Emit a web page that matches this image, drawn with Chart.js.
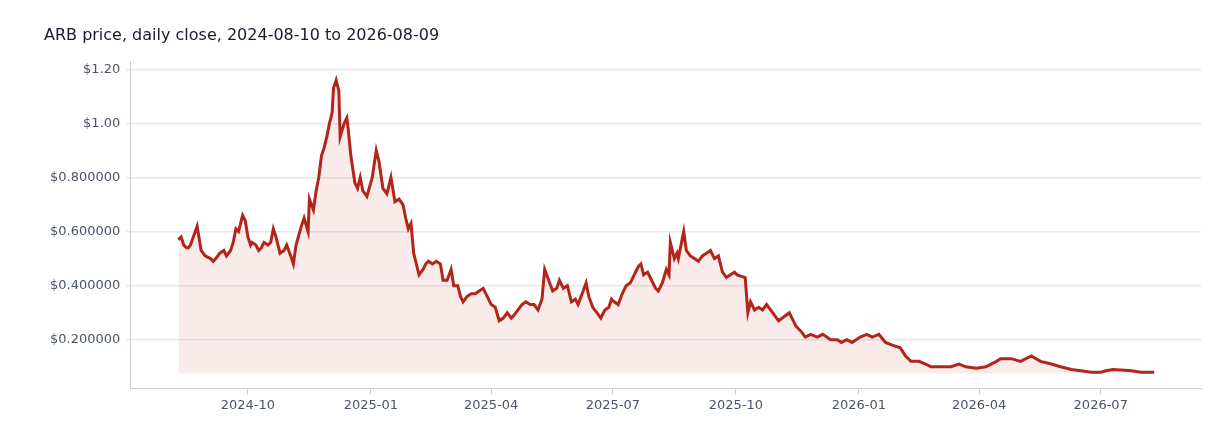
<!DOCTYPE html>
<html><head><meta charset="utf-8">
<script src="https://cdn.jsdelivr.net/npm/chart.js@4"></script>
<style>html,body{margin:0;padding:0;background:#fff}#w{width:1232px;height:448px;position:relative}</style>
</head><body><div id="w"><canvas id="c"></canvas></div>
<script>
const dayOffsets=[0,2,4,6,7.5,9,14,17,20,24,26,28,31,34,36,39,41,43,45,46,48,50,52,54,55,58,60,62,64,67,69,71,73,76,79,81,84,86,88,92,94,97,98,101,103,105,107,109,111,113,115,116,118,120,121,124,126,127,129,132,134,136,138,141,145,148,150,153,156,159,162,165,168,170,172,174,176,178,180,183,185,187,190,193,196,198,201,204,206,209,211,213,216,219,222,225,228,231,234,237,240,243,246,249,251,254,257,260,263,266,269,272,274,277,280,283,285,288,291,294,297,299,302,305,307,310,313,316,319,322,324,326,329,332,335,338,341,344,346,348,351,354,357,359,362,365,367,368,371,373,374,378,380,383,386,389,392,395,398,401,404,407,410,413,416,418,424,426,428,431,434,437,440,443,449,457,462,466,469,473,478,482,488,493,496,500,504,510,515,519,524,529,534,540,544,548,554,559,563,570,578,584,589,597,604,612,615,623,630,638,645,653,660,668,675,683,690,694,699,705,713,720,730];
const prices=[0.57,0.58,0.55,0.54,0.54,0.55,0.62,0.53,0.51,0.50,0.49,0.50,0.52,0.53,0.51,0.53,0.56,0.61,0.60,0.62,0.66,0.64,0.58,0.55,0.56,0.55,0.53,0.54,0.56,0.55,0.56,0.61,0.58,0.52,0.53,0.55,0.51,0.48,0.55,0.62,0.65,0.60,0.72,0.68,0.75,0.80,0.88,0.91,0.95,1.00,1.04,1.13,1.16,1.12,0.95,1.00,1.02,0.98,0.88,0.78,0.76,0.80,0.75,0.73,0.80,0.90,0.86,0.76,0.74,0.80,0.71,0.72,0.70,0.65,0.61,0.63,0.52,0.48,0.44,0.46,0.48,0.49,0.48,0.49,0.48,0.42,0.42,0.46,0.40,0.40,0.36,0.34,0.36,0.37,0.37,0.38,0.39,0.36,0.33,0.32,0.27,0.28,0.30,0.28,0.29,0.31,0.33,0.34,0.33,0.33,0.31,0.35,0.46,0.42,0.38,0.39,0.42,0.39,0.40,0.34,0.35,0.33,0.37,0.41,0.36,0.32,0.30,0.28,0.31,0.32,0.35,0.34,0.33,0.37,0.40,0.41,0.44,0.47,0.48,0.44,0.45,0.42,0.39,0.38,0.41,0.46,0.44,0.56,0.50,0.52,0.50,0.60,0.53,0.51,0.50,0.49,0.51,0.52,0.53,0.50,0.51,0.45,0.43,0.44,0.45,0.44,0.43,0.30,0.34,0.31,0.32,0.31,0.33,0.31,0.27,0.30,0.25,0.23,0.21,0.22,0.21,0.22,0.20,0.20,0.19,0.20,0.19,0.21,0.22,0.21,0.22,0.19,0.18,0.17,0.14,0.12,0.12,0.11,0.10,0.10,0.10,0.11,0.10,0.095,0.10,0.12,0.13,0.13,0.12,0.14,0.12,0.11,0.10,0.09,0.085,0.08,0.08,0.085,0.09,0.088,0.085,0.08,0.08];
const xTickDays=[52,144,234,325,417,509,599,690];
const xTickLabels=['2024-10','2025-01','2025-04','2025-07','2025-10','2026-01','2026-04','2026-07'];
const yTickValues=[0.2,0.4,0.6,0.8,1.0,1.2];
const yTickLabels=['$0.200000','$0.400000','$0.600000','$0.800000','$1.00','$1.20'];
const pts=dayOffsets.map((d,i)=>({x:d,y:prices[i]}));
const minP=Math.min(...prices)-0.005;
new Chart(document.getElementById('c'),{type:'line',
data:{datasets:[{data:pts,borderColor:'#b22519',borderWidth:3,pointRadius:0,tension:0,
fill:{value:minP},backgroundColor:'rgba(178,37,25,0.09)'}]},
options:{responsive:true,maintainAspectRatio:false,animation:false,
layout:{padding:{left:44,right:31,top:18,bottom:32}},
plugins:{legend:{display:false},tooltip:{enabled:false},
title:{display:true,text:'ARB price, daily close, 2024-08-10 to 2026-08-09',align:'start',color:'#1a1a2e',font:{family:'DejaVu Sans',size:16,weight:'normal'},padding:{top:8,bottom:16}}},
scales:{
x:{type:'linear',min:-36,max:765,
afterBuildTicks:a=>{a.ticks=xTickDays.map(v=>({value:v}));},
ticks:{callback:(v)=>xTickLabels[xTickDays.indexOf(v)]||'',color:'#4a5468',font:{family:'DejaVu Sans',size:13},autoSkip:false,maxRotation:0},
grid:{display:true,drawOnChartArea:false,drawTicks:true,tickLength:6,color:'#c8ccd6'},border:{color:'#c8ccd6'}},
y:{min:0.02,max:1.23,
afterBuildTicks:a=>{a.ticks=yTickValues.map(v=>({value:v}));},
ticks:{callback:(v)=>yTickLabels[yTickValues.findIndex(t=>Math.abs(t-v)<1e-9)]||'',color:'#4a5468',font:{family:'DejaVu Sans',size:13},padding:6},
grid:{color:'#e6e7ec',lineWidth:1.5,tickLength:4},border:{color:'#c8ccd6'}}}}});
</script></body></html>
